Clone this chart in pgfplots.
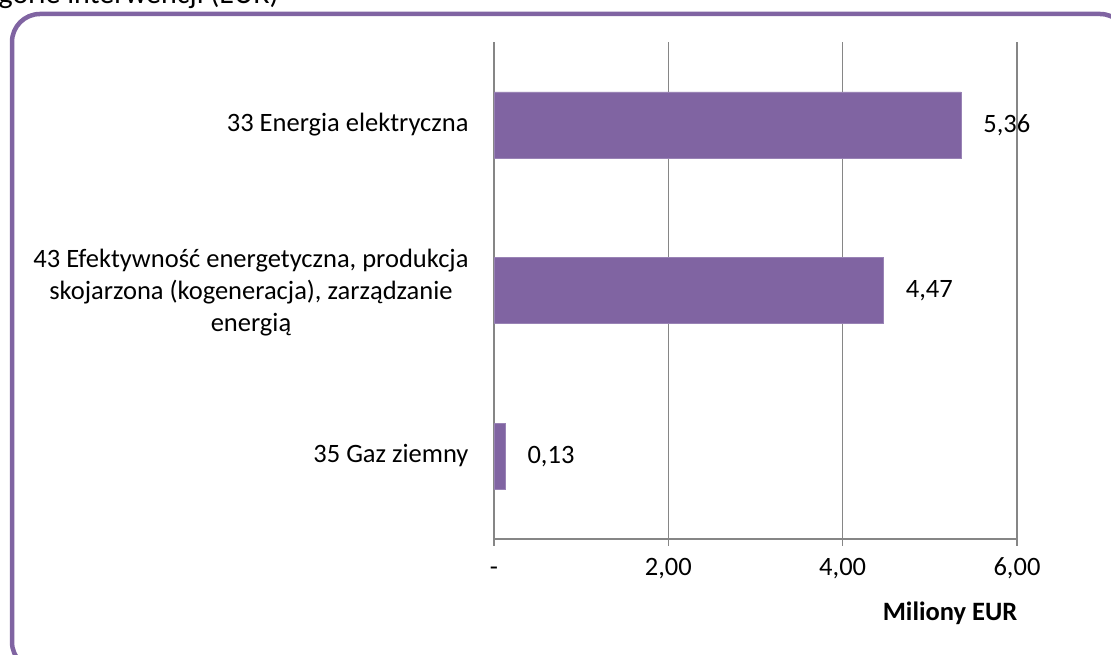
\documentclass[border=0pt]{standalone}
\usepackage{fontspec}
\setmainfont{Carlito}
\usepackage{pgfplots}
\pgfplotsset{compat=1.18}

\definecolor{barpurple}{HTML}{8064A2}
\definecolor{gridgray}{HTML}{868686}
\newcommand{\chartfont}{\fontsize{26.5}{32}\selectfont}

\begin{document}
\begin{tikzpicture}[x=1pt,y=1pt]
\path[use as bounding box] (0,0) rectangle (1111,655);
\clip (0,0) rectangle (1111,655);

% clipped title and frame
\node[anchor=base east, inner sep=0pt, font=\fontsize{30}{36}\selectfont] at (279,651) {Podział na kategorie interwencji (EUR)};
\draw[barpurple, line width=4.5pt, rounded corners=28pt] (12,641) rectangle (1128,-15);

\begin{axis}[
  at={(494pt,116pt)}, anchor=south west,
  scale only axis, width=523pt, height=497pt,
  xbar, bar width=66pt,
  xmin=0, xmax=6, ymin=-0.5, ymax=2.5,
  axis lines=left, axis line style={-, gridgray, line width=1.5pt},
  xmajorgrids, grid style={gridgray, line width=1.5pt},
  xtick={0,2,4,6}, xticklabels={-\hspace{14pt}, {2,00}, {4,00}, {6,00}},
  xtick style={gridgray, line width=1.5pt},
  tick align=outside, major tick length=7pt,
  typeset ticklabels with strut,
  xticklabel style={font=\chartfont, yshift=-4pt},
  ytick={0,1,2},
  yticklabels={35 Gaz ziemny,
    {43 Efektywność energetyczna, produkcja\\skojarzona (kogeneracja), zarządzanie\\energią},
    33 Energia elektryczna},
  ytick style={draw=none},
  yticklabel style={font=\chartfont, align=center, xshift=-15pt},
  extra y ticks={-0.5,0.5,1.5,2.5}, extra y tick labels={},
  extra y tick style={ytick style={gridgray, line width=1.5pt}, grid=none},
  point meta=explicit symbolic,
  nodes near coords,
  every node near coord/.append style={font=\chartfont, anchor=west, inner sep=0pt, xshift=22pt, text=black},
  clip=false,
]
\addplot[fill=barpurple, draw=barpurple!80!white] coordinates {
  (0.13,0) [{0,13}]
  (4.47,1) [{4,47}]
  (5.36,2) [{5,36}]
};
\end{axis}

\node[font=\chartfont\bfseries] at (950,42) {Miliony EUR};
\end{tikzpicture}
\end{document}
